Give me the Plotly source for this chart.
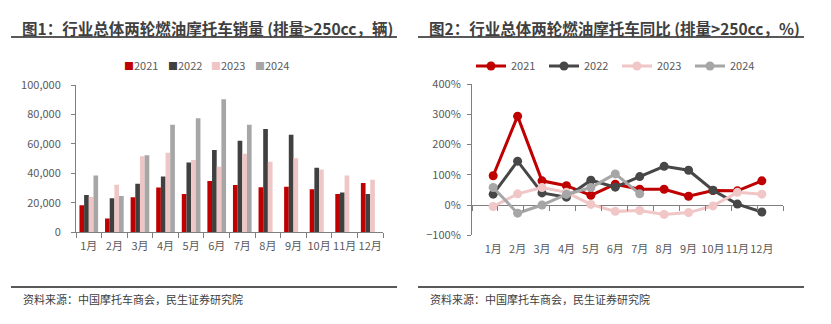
import plotly.graph_objects as go

months = ["1月", "2月", "3月", "4月", "5月", "6月", "7月", "8月", "9月", "10月", "11月", "12月"]
years = ["2021", "2022", "2023", "2024"]

sales_2021 = [18500, 9400, 23800, 30500, 26000, 34800, 32200, 30700, 30900, 29200, 26000, 33500]
sales_2022 = [25300, 23200, 33000, 38000, 47400, 56000, 62200, 70200, 66300, 43800, 27000, 26000]
sales_2023 = [24200, 32400, 51700, 54000, 49100, 44600, 53400, 47900, 50400, 42700, 38600, 35800]
sales_2024 = [38600, 24700, 52400, 73000, 77500, 90300, 73000, None, None, None, None, None]

yoy_2021 = [97, 294, 80, 64, 32, 69, 52, 52, 29, 48, 47, 80]
yoy_2022 = [36, 145, 40, 26, 82, 59, 94, 128, 115, 49, 3, -23]
yoy_2023 = [-5, 37, 58, 42, 2, -21, -18, -31, -25, -3, 42, 36]
yoy_2024 = [58, -27, 0, 35, 58, 103, 37, None, None, None, None, None]

bar_colors = ["#C00000", "#404040", "#EFC6C6", "#A6A6A6"]
line_colors = ["#C00000", "#474747", "#F0C6C6", "#A6A6A6"]

title1 = "图1：行业总体两轮燃油摩托车销量 (排量>250cc，辆)"
title2 = "图2：行业总体两轮燃油摩托车同比 (排量>250cc，%)"
source = "资料来源：中国摩托车商会，民生证券研究院"

W, H = 831, 324
FONT = "Noto Sans CJK SC"
TICK = "#595959"
AX = "#7F7F7F"

fig = go.Figure()

for name, vals, c in zip(years, [sales_2021, sales_2022, sales_2023, sales_2024], bar_colors):
    fig.add_trace(go.Bar(x=months, y=vals, name=name, marker_color=c, marker_line_width=0,
                         xaxis="x", yaxis="y", showlegend=False))

for name, vals, c in zip(years, [yoy_2021, yoy_2022, yoy_2023, yoy_2024], line_colors):
    fig.add_trace(go.Scatter(x=months, y=vals, name=name, mode="lines+markers",
                             line=dict(color=c, width=3), marker=dict(color=c, size=9),
                             xaxis="x2", yaxis="y2", legend="legend2"))

# invisible trace to host the zero-line tick axis
fig.add_trace(go.Scatter(x=[0], y=[None], xaxis="x3", yaxis="y2", showlegend=False,
                         hoverinfo="skip", mode="markers"))

def px(x):
    return x / W

def py(y):
    return 1 - y / H

y0, y1 = -100, 400
d2 = [py(238), py(79)]
zero_pos = d2[0] + (0 - y0) / (y1 - y0) * (d2[1] - d2[0])

fig.update_layout(
    width=W, height=H, margin=dict(l=0, r=0, t=0, b=0),
    paper_bgcolor="white", plot_bgcolor="white",
    font=dict(family=FONT, size=11, color=TICK),
    barmode="group", bargap=0.27, bargroupgap=0,
    xaxis=dict(domain=[px(76), px(383)], anchor="y", showline=True, linecolor=AX, linewidth=1,
               ticks="outside", tickson="boundaries", ticklen=5, tickcolor=AX, tickangle=0,
               ticklabelstandoff=3,
               showgrid=False, tickfont=dict(size=11, color=TICK), fixedrange=True),
    yaxis=dict(domain=[py(235), py(80)], anchor="x", range=[0, 100000], dtick=20000,
               tickformat=",", showline=True, linecolor=AX, linewidth=1, ticks="outside",
               ticklen=4, tickcolor=AX, showgrid=False, zeroline=False, ticklabelstandoff=8,
               tickfont=dict(size=11, color=TICK)),
    xaxis2=dict(domain=[px(472), px(783)], anchor="y2", showline=False, ticks="", tickangle=0,
                ticklabelstandoff=6,
                showgrid=False, tickfont=dict(size=11, color=TICK)),
    yaxis2=dict(domain=d2, anchor="x2", range=[y0, y1], dtick=100, ticksuffix="%",
                showline=True, linecolor=AX, linewidth=1, ticks="outside", ticklen=4,
                tickcolor=AX, showgrid=False, zeroline=True, zerolinecolor=AX,
                zerolinewidth=1, ticklabelstandoff=4, tickfont=dict(size=11, color=TICK)),
    xaxis3=dict(domain=[px(472), px(783)], overlaying="x2", anchor="free", position=zero_pos,
                range=[-0.5, 11.5], tickvals=[i - 0.5 for i in range(13)],
                showticklabels=False, ticks="outside", ticklen=5, tickcolor=AX,
                showline=False, showgrid=False, zeroline=False),
    legend2=dict(orientation="h", x=px(471), y=py(60), xanchor="left", yanchor="middle",
                 font=dict(size=11, color=TICK), itemwidth=30, entrywidth=28,
                 bgcolor="rgba(0,0,0,0)", traceorder="normal"),
    showlegend=True,
)

# left legend (bar swatches) as text
for i, (name, c) in enumerate(zip(years, bar_colors)):
    fig.add_annotation(text=f"<span style='color:{c};font-size:10px'>■</span>{name}",
                       x=px(122 + 43.7 * i), y=py(59), xref="paper", yref="paper",
                       xanchor="left", yanchor="middle", showarrow=False,
                       font=dict(family=FONT, size=11, color=TICK))

# titles, rules and sources
for x_text, x0, x1, t in [(20, 11, 397, title1), (427, 418, 804, title2)]:
    fig.add_annotation(text="<b>" + t + "</b>", x=px(x_text), y=py(20), xref="paper", yref="paper",
                       xanchor="left", yanchor="middle", showarrow=False,
                       font=dict(family=FONT, size=15.5, color="#404040"))
    fig.add_shape(type="line", xref="paper", yref="paper", x0=px(x0), x1=px(x1), y0=py(29.5), y1=py(29.5),
                  line=dict(color="#595959", width=2))
    fig.add_shape(type="line", xref="paper", yref="paper", x0=px(x0), x1=px(x1), y0=py(292.5), y1=py(292.5),
                  line=dict(color="#595959", width=2))
    fig.add_annotation(text=source, x=px(x_text + 1), y=py(305), xref="paper", yref="paper",
                       xanchor="left", yanchor="middle", showarrow=False,
                       font=dict(family=FONT, size=11, color="#404040"))

fig.write_html("out.html")
